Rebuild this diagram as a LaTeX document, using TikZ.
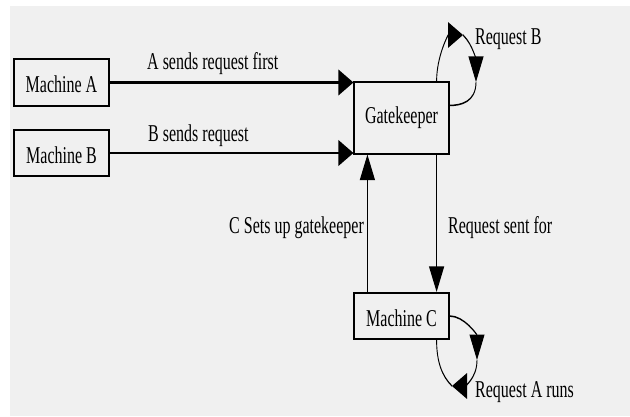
\documentclass[tikz,border=0pt]{standalone}
\usepackage{fontspec}
\setmainfont{Liberation Serif}[FakeStretch=1.127]
\usetikzlibrary{arrows.meta}
\definecolor{bgc}{RGB}{240,240,240}
\begin{document}
\begin{tikzpicture}[x=1pt,y=-1pt]
\useasboundingbox (0,0) rectangle (630,417);
\fill[white] (0,0) rectangle (630,417);
\fill[bgc] (10,6) rectangle (630,416);
\begin{scope}[transform canvas={yscale=1.7}, y=-0.588235pt,
  box/.style={draw, line width=1.2pt, minimum width=95pt, inner sep=1pt,
    font=\fontsize{14.2}{16}\selectfont},
  mbox/.style={box, text height=12pt, text depth=0pt},
  lbl/.style={font=\fontsize{14.2}{16}\selectfont, inner sep=0pt, anchor=base west},
  tip/.style={-{Triangle[length=15pt,width=15pt]}},
  conn/.style={line width=1.2pt},
  loopline/.style={line width=0.9pt}]
  % boxes
  \node[mbox, minimum height=27.6pt] (A) at (61.5,82.5) {Machine A};
  \node[mbox, minimum height=27.6pt] (B) at (61.5,153) {Machine B};
  \node[box, minimum height=41.8pt] (G) at (401.5,118) {Gatekeeper};
  \node[mbox, minimum height=27.1pt] (C) at (401.5,316) {Machine C};
  % labels
  \node[lbl] (la) at (147,70) {A sends request first};
  \node[lbl] (lb) at (148,141) {B sends request};
  \node[lbl] (lc) at (229,233) {C Sets up gatekeeper};
  \node[lbl] (ld) at (448,233) {Request sent for};
  \node[lbl] (le) at (475,45) {Request B};
  \node[lbl] (lf) at (475,397) {Request A runs};
  % straight connectors
  \draw[conn,tip] (A.east) -- (A.east -| G.west);
  \draw[conn,tip] (B.east) -- (B.east -| G.west);
  \draw[conn,tip] ([xshift=14pt]C.north west) -- ([xshift=14pt]G.south west);
  \draw[conn,tip] ([xshift=-13pt]G.south east) -- ([xshift=-13pt]C.north east);
  % gatekeeper self loop
  \coordinate (g1) at (463,35);
  \coordinate (g2) at (476,82);
  \draw[loopline,tip] ([xshift=-13pt]G.north east) to[out=90,in=180] (g1);
  \draw[loopline,tip] (g1) to[out=-30,in=90] (g2);
  \draw[loopline] (g2) to[out=-90,in=0] ([shift={(0,24)}]G.north east);
  % machine C self loop
  \coordinate (c1) at (477,360);
  \coordinate (c2) at (452,386);
  \draw[loopline,tip] (C.east) to[out=0,in=90] (c1);
  \draw[loopline,tip] (c1) to[out=-90,in=0] (c2);
  \draw[loopline] (c2) to[out=150,in=-90] ([xshift=-13pt]C.south east);
\end{scope}
\end{tikzpicture}
\end{document}
